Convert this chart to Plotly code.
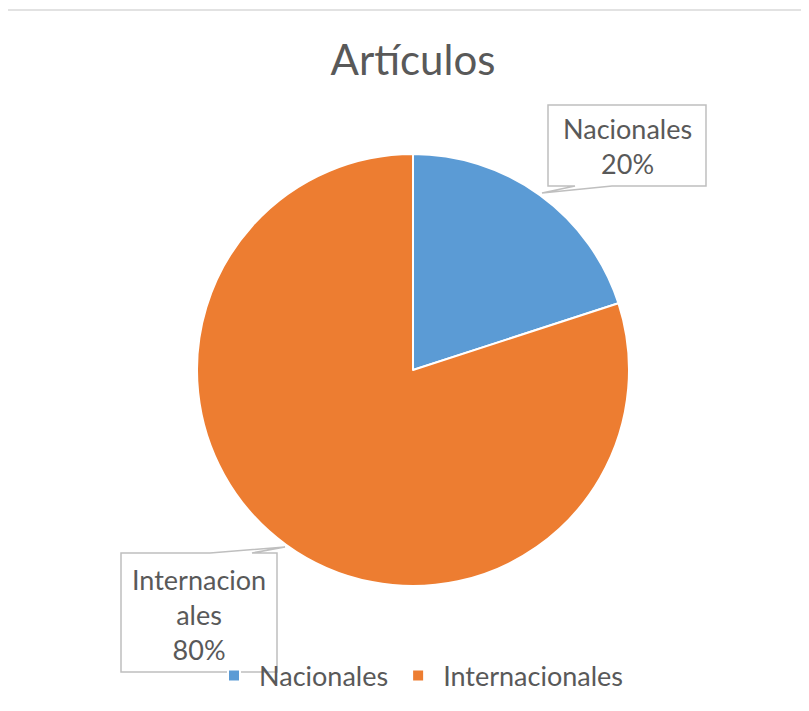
import plotly.graph_objects as go

# page has an 8px body margin, so the figure is sized to fit inside the window
OFF = 8
W, H = 809 - 2 * OFF, 711 - 2 * OFF

categories = ["Nacionales", "Internacionales"]
values = [20, 80]
colors = ["#5B9BD5", "#ED7D31"]
title_text = "Artículos"
# wrapped label texts as shown in the callouts
label_lines = [["Nacionales"], ["Internacion", "ales"]]

GREY = "#595959"
FONT = "Lato"


def px(x, y):
    # window pixel -> paper coords
    return (x - OFF) / W, 1 - (y - OFF) / H


def path(points):
    pts = [px(x, y) for x, y in points]
    return "M" + " L".join(f"{a:.5f},{b:.5f}" for a, b in pts) + " Z"


cx, cy, r = 413, 370, 216
x0, y1 = px(cx - r, cy - r)
x1, y0 = px(cx + r, cy + r)

fig = go.Figure(go.Pie(
    labels=categories,
    values=values,
    marker=dict(colors=colors, line=dict(color="white", width=2)),
    sort=False,
    direction="clockwise",
    rotation=0,
    textinfo="none",
    hoverinfo="label+percent",
    domain=dict(x=[x0, x1], y=[y0, y1]),
))

total = sum(values)
pcts = [round(v * 100 / total) for v in values]

# callout boxes (pixel geometry)
callouts = [
    dict(pts=[(548, 105), (706, 105), (706, 186), (612, 186), (542, 193), (575, 186), (548, 186)],
         center=(627, 146)),
    dict(pts=[(121, 553), (210, 553), (285, 547), (252, 553), (277, 553), (277, 672), (121, 672)],
         center=(199, 614)),
]

bx, by = px(6, 10)
shapes = [dict(type="rect", xref="paper", yref="paper",
               x0=bx, x1=1.05, y0=-0.05, y1=by,
               line=dict(color="#D9D9D9", width=1.5), layer="below")]
annotations = []
for i, c in enumerate(callouts):
    shapes.append(dict(type="path", xref="paper", yref="paper", path=path(c["pts"]),
                       line=dict(color="#BFBFBF", width=1.5), fillcolor="white", layer="above"))
    ax, ay = px(*c["center"])
    annotations.append(dict(
        x=ax, y=ay, xref="paper", yref="paper", showarrow=False,
        xanchor="center", yanchor="middle",
        text="<br>".join(label_lines[i] + [f"{pcts[i]}%"]),
        font=dict(family=FONT, size=27, color=GREY), align="center",
    ))

tx, ty = px(413, 60)
lx, ly = px(419, 676)
fig.update_layout(
    width=W, height=H,
    margin=dict(l=0, r=0, t=0, b=0),
    paper_bgcolor="white",
    title=dict(text=title_text, x=tx, xanchor="center", y=ty, yanchor="middle",
               font=dict(family=FONT, size=42, color=GREY)),
    shapes=shapes,
    annotations=annotations,
    showlegend=True,
    legend=dict(orientation="h", x=lx, xanchor="center", y=ly, yanchor="middle",
                font=dict(family=FONT, size=27, color=GREY), bgcolor="rgba(0,0,0,0)",
                itemwidth=40, itemclick=False),
)

fig.write_html("out.html")
